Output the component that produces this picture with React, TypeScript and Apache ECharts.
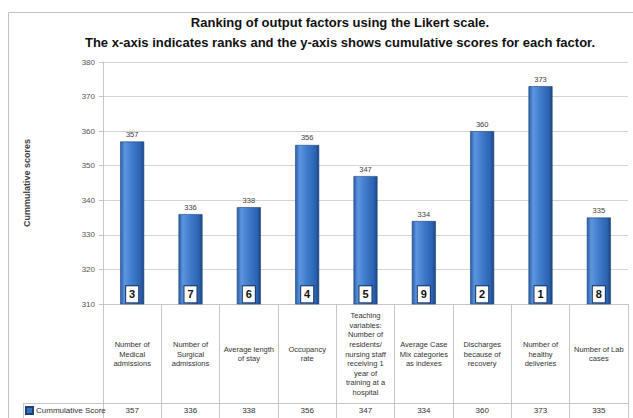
import React, { useEffect, useRef } from "react";
import * as echarts from "echarts";

const categories = [
  "Number of\nMedical\nadmissions",
  "Number of\nSurgical\nadmissions",
  "Average length\nof stay",
  "Occupancy\nrate",
  "Teaching\nvariables:\nNumber of\nresidents/\nnursing staff\nreceiving 1\nyear of\ntraining at a\nhospital",
  "Average Case\nMix categories\nas indexes",
  "Discharges\nbecause of\nrecovery",
  "Number of\nhealthy\ndeliveries",
  "Number of Lab\ncases",
];
const scores = [357, 336, 338, 356, 347, 334, 360, 373, 335];
const ranks = [3, 7, 6, 4, 5, 9, 2, 1, 8];
const seriesName = "Cummulative Score";
const yTitle = "Cummulative scores";
const titleText =
  "Ranking of output factors using the Likert scale.\nThe x-axis indicates ranks and the y-axis shows cumulative scores for each factor.";

const FONT = "'Liberation Sans', Arial, sans-serif";
const LINE = "#c6c6c6";

export default function App() {
  const ref = useRef<HTMLDivElement>(null);
  useEffect(() => {
    if (!ref.current) return;
    const chart = echarts.init(ref.current, null, { renderer: "svg" });
    const barGrad = new echarts.graphic.LinearGradient(0, 0, 1, 0, [
      { offset: 0, color: "#2b5ea6" },
      { offset: 0.18, color: "#5d95e0" },
      { offset: 0.5, color: "#3f7acb" },
      { offset: 0.85, color: "#2c63b2" },
      { offset: 1, color: "#1c4682" },
    ]);
    chart.setOption({
      animation: false,
      textStyle: { fontFamily: FONT },
      title: {
        text: titleText,
        left: 340,
        top: 12,
        padding: 0,
        textAlign: "center",
        textStyle: { fontFamily: FONT, fontSize: 13, fontWeight: "bold", color: "#111", lineHeight: 20 },
      },
      legend: {
        data: [seriesName],
        left: 25,
        top: 406,
        padding: 0,
        icon: "rect",
        itemWidth: 7,
        itemHeight: 7,
        itemGap: 4,
        itemStyle: { color: "#3a70c0" },
        textStyle: { fontFamily: FONT, fontSize: 8, color: "#333", padding: [0, 0, 0, -2] },
        selectedMode: false,
      },
      grid: { left: 103, right: 5, top: 62, bottom: 114 },
      xAxis: [
        {
          type: "category",
          data: categories,
          position: "bottom",
          axisLine: { show: true, lineStyle: { color: LINE } },
          axisTick: { show: true, length: 99, interval: 0, lineStyle: { color: LINE } },
          axisLabel: {
            interval: 0,
            margin: 50,
            verticalAlign: "middle",
            fontFamily: FONT,
            fontSize: 7.5,
            lineHeight: 9.6,
            color: "#333",
          },
          splitLine: { show: false },
        },
        {
          type: "category",
          data: scores.map(String),
          position: "bottom",
          offset: 99,
          axisLine: { show: true, lineStyle: { color: LINE } },
          axisTick: { show: true, length: 15, interval: 0, lineStyle: { color: LINE } },
          axisLabel: { interval: 0, margin: 7, verticalAlign: "middle", fontFamily: FONT, fontSize: 8, color: "#333" },
        },
      ],
      yAxis: {
        type: "value",
        min: 310,
        max: 380,
        interval: 10,
        name: yTitle,
        nameLocation: "middle",
        nameGap: 72,
        nameRotate: 90,
        nameTextStyle: { fontFamily: FONT, fontSize: 9, fontWeight: "bold", color: "#404040" },
        axisLine: { show: true, lineStyle: { color: LINE } },
        axisTick: { show: true, length: 4, lineStyle: { color: LINE } },
        axisLabel: { fontFamily: FONT, fontSize: 8, color: "#555", margin: 8 },
        splitLine: { show: true, lineStyle: { color: "#d4d4d4" } },
      },
      graphic: [
        { type: "rect", shape: { x: 8.5, y: 12.5, width: 640, height: 420 }, style: { fill: "none", stroke: "#c4c4c4", lineWidth: 1 }, silent: true },
        { type: "line", shape: { x1: 23, y1: 403.5, x2: 103, y2: 403.5 }, style: { stroke: LINE, lineWidth: 1 }, silent: true },
        { type: "line", shape: { x1: 23.5, y1: 403, x2: 23.5, y2: 420 }, style: { stroke: LINE, lineWidth: 1 }, silent: true },
      ],
      series: [
        {
          name: seriesName,
          type: "bar",
          data: scores,
          barWidth: 24,
          itemStyle: { color: barGrad, borderColor: "#1d4278", borderWidth: 0.6 },
          label: {
            show: true,
            position: "insideBottom",
            distance: 2,
            formatter: (p: any) => "{r|" + ranks[p.dataIndex] + "}",
            rich: {
              r: {
                backgroundColor: "#fff",
                borderColor: "#1a3560",
                borderWidth: 1,
                width: 12,
                height: 16,
                align: "center",
                verticalAlign: "middle",
                fontFamily: FONT,
                fontSize: 11,
                fontWeight: "bold",
                color: "#111",
              },
            },
          },
          emphasis: { disabled: true },
        },
        {
          name: "values",
          type: "bar",
          data: scores,
          barWidth: 24,
          barGap: "-100%",
          itemStyle: { color: "transparent" },
          label: { show: true, position: "top", distance: 3, fontFamily: FONT, fontSize: 7.5, color: "#404040" },
          emphasis: { disabled: true },
          silent: true,
        },
      ],
    });
    return () => chart.dispose();
  }, []);
  return <div ref={ref} style={{ position: "fixed", left: 0, top: 0, width: 633, height: 418, background: "#fff" }} />;
}
